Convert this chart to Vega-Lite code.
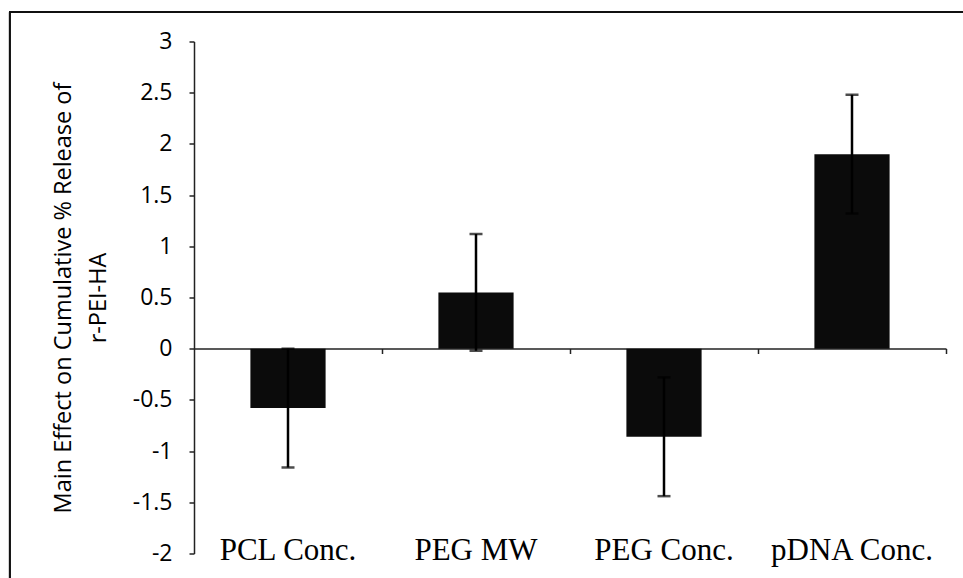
{
  "$schema": "https://vega.github.io/schema/vega-lite/v6.json",
  "width": 752,
  "height": 512,
  "autosize": "none",
  "padding": {"left": 194, "top": 41.5, "right": 17, "bottom": 24.5},
  "background": "white",
  "config": {
    "view": {"stroke": null},
    "axis": {"grid": false}
  },
  "data": {
    "values": [
      {"factor": "PCL Conc.", "effect": -0.58, "lo": -1.16, "hi": 0.0},
      {"factor": "PEG MW", "effect": 0.55, "lo": -0.02, "hi": 1.12},
      {"factor": "PEG Conc.", "effect": -0.86, "lo": -1.44, "hi": -0.28},
      {"factor": "pDNA Conc.", "effect": 1.9, "lo": 1.32, "hi": 2.48}
    ]
  },
  "resolve": {"scale": {"x": "independent"}, "axis": {"x": "independent"}},
  "layer": [
    {
      "description": "outer frame plus the zero baseline with ticks between categories",
      "mark": {"type": "rect", "fill": null, "stroke": "#111", "strokeWidth": 1.6},
      "encoding": {
        "x": {
          "datum": -0.98,
          "type": "quantitative",
          "scale": {"domain": [0, 4], "nice": false, "zero": false},
          "axis": {
            "orient": "bottom",
            "offset": -205,
            "values": [1, 2, 3, 4],
            "labels": false,
            "title": null,
            "domainColor": "#222",
            "domainWidth": 1.5,
            "tickColor": "#222",
            "tickWidth": 1.5,
            "tickSize": 5
          }
        },
        "x2": {"datum": 4.3},
        "y": {"datum": 3.288, "type": "quantitative"},
        "y2": {"datum": -2.5}
      }
    },
    {
      "layer": [
        {
          "mark": {"type": "bar", "color": "#0b0b0b"},
          "encoding": {
            "x": {
              "field": "factor",
              "type": "nominal",
              "sort": null,
              "scale": {"paddingInner": 0.6, "paddingOuter": 0.3},
              "axis": {
                "orient": "bottom",
                "title": null,
                "domain": false,
                "ticks": false,
                "tickSize": 0,
                "labelAngle": 0,
                "labelFont": "Liberation Serif",
                "labelFontSize": 31,
                "labelColor": "#000",
                "labelBaseline": "alphabetic",
                "labelPadding": 6
              }
            },
            "y": {
              "field": "effect",
              "type": "quantitative",
              "scale": {"domain": [-2, 3], "nice": false},
              "axis": {
                "values": [-2, -1.5, -1, -0.5, 0, 0.5, 1, 1.5, 2, 2.5, 3],
                "labelExpr": "replace(format(datum.value, '~g'), '\u2212', '-')",
                "labelFont": "Open Sans",
                "labelFontSize": 23,
                "labelColor": "#000",
                "labelPadding": 17,
                "tickSize": 5,
                "tickColor": "#222",
                "tickWidth": 1.5,
                "domainColor": "#222",
                "domainWidth": 1.5,
                "title": ["Main Effect on Cumulative % Release of", "r-PEI-HA"],
                "titleFont": "Open Sans",
                "titleFontSize": 23.5,
                "titleFontWeight": "normal",
                "titleColor": "#000",
                "titleLineHeight": 35,
                "titlePadding": 22
              }
            }
          }
        },
        {
          "mark": {"type": "rule", "color": "#000", "strokeWidth": 2.5},
          "encoding": {
            "x": {"field": "factor", "type": "nominal", "sort": null},
            "y": {"field": "lo", "type": "quantitative"},
            "y2": {"field": "hi"}
          }
        },
        {
          "mark": {"type": "tick", "color": "#000", "size": 13, "thickness": 2.5},
          "encoding": {
            "x": {"field": "factor", "type": "nominal", "sort": null},
            "y": {"field": "lo", "type": "quantitative"}
          }
        },
        {
          "mark": {"type": "tick", "color": "#000", "size": 13, "thickness": 2.5},
          "encoding": {
            "x": {"field": "factor", "type": "nominal", "sort": null},
            "y": {"field": "hi", "type": "quantitative"}
          }
        }
      ]
    }
  ]
}
